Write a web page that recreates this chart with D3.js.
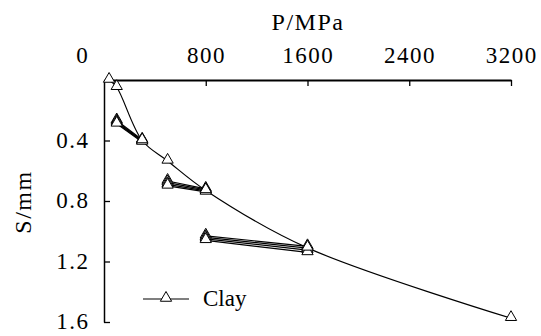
<!DOCTYPE html>
<html>
<head>
<meta charset="utf-8">
<script src="https://cdnjs.cloudflare.com/ajax/libs/d3/7.8.5/d3.min.js"></script>
<style>
  body { margin: 0; background: #fff; }
  svg text { font-family: 'Liberation Serif', 'Times New Roman', serif; fill: #000; }
</style>
</head>
<body>
<svg id="chart" width="541" height="336"></svg>
<script>
// loading curve (P in MPa, S in mm)
let loadP = [40, 100, 300, 500, 800, 1600, 3200];
let loadS = [0, 0.048, 0.40, 0.535, 0.73, 1.11, 1.575];

// unload / reload cycles: each line goes from low P to high P
let cycleP = [[100, 300], [500, 800], [800, 1600]];
let cycleS = [
  [[0.268, 0.395], [0.276, 0.40], [0.283, 0.405], [0.29, 0.41]],
  [[0.668, 0.72], [0.678, 0.727], [0.69, 0.733], [0.70, 0.74]],
  [[1.03, 1.10], [1.04, 1.112], [1.05, 1.125], [1.06, 1.14]]
];

let xTicks = [0, 800, 1600, 2400, 3200];
let yTicks = [0.4, 0.8, 1.2, 1.6];
let seriesName = "Clay";

let svg = d3.select("#chart");

let x = d3.scaleLinear().domain([0, 3200]).range([104, 511]);
let y = d3.scaleLinear().domain([0, 1.6]).range([80, 322]);

// top x axis
let xAxis = svg.append("g").attr("transform", "translate(0,80)").
call(d3.axisBottom(x).tickValues(xTicks).tickSize(6).tickSizeOuter(0).tickFormat(""));
xAxis.select(".domain").attr("stroke", "#000").attr("stroke-width", 2);
xAxis.selectAll(".tick line").attr("stroke", "#000").attr("stroke-width", 1.3).
filter(d => d === 0).remove();

svg.append("g").selectAll("text").
data(xTicks).
enter().append("text").
attr("x", d => x(d) + (d === 0 ? -22 : 0) + 0.75).
attr("y", 63).
attr("text-anchor", "middle").
style("font-size", "23px").
style("letter-spacing", "1.5px").
text(d => d);

svg.append("text").
attr("x", 308).
attr("y", 30).
attr("text-anchor", "middle").
style("font-size", "24px").
style("letter-spacing", "1.5px").
text("P/MPa");

// left y axis, ticks pointing inward
let yAxis = svg.append("g").attr("transform", "translate(104,0)").
call(d3.axisRight(y).tickValues(yTicks).tickSize(6).tickSizeOuter(0).tickFormat(""));
yAxis.select(".domain").attr("stroke", "#000").attr("stroke-width", 1.5);
yAxis.selectAll(".tick line").attr("stroke", "#000").attr("stroke-width", 1.3);

svg.append("g").selectAll("text").
data(yTicks).
enter().append("text").
attr("x", 89.5).
attr("y", d => y(d) + 7).
attr("text-anchor", "end").
style("font-size", "23px").
style("letter-spacing", "1.5px").
text(d => d.toFixed(1));

svg.append("text").
attr("transform", "translate(31,202) rotate(-90)").
attr("text-anchor", "middle").
style("font-size", "24px").
style("letter-spacing", "1.5px").
text("S/mm");

// lines
let loadPts = loadP.map((p, i) => [p, loadS[i]]);
let smooth = d3.line().x(d => x(d[0])).y(d => y(d[1])).curve(d3.curveCatmullRom.alpha(0.5));
let straight = d3.line().x(d => x(d[0])).y(d => y(d[1]));

svg.append("path").
attr("d", smooth(loadPts)).
attr("fill", "none").
attr("stroke", "#000").
attr("stroke-width", 1.2);

let cyclePts = [];
cycleS.forEach((group, c) => {
  group.forEach(pair => {
    let pts = [[cycleP[c][0], pair[0]], [cycleP[c][1], pair[1]]];
    svg.append("path").
    attr("d", straight(pts)).
    attr("fill", "none").
    attr("stroke", "#000").
    attr("stroke-width", 1.2);
    cyclePts.push(...pts);
  });
});

// triangle markers
let tri = d3.symbol().type(d3.symbolTriangle).size(55);
let allPts = cyclePts.concat(loadPts);
svg.append("g").selectAll("path").
data(allPts).
enter().append("path").
attr("d", tri).
attr("transform", d => "translate(" + x(d[0]) + "," + (y(d[1]) - 1) + ")").
attr("fill", "#fff").
attr("stroke", "#000").
attr("stroke-width", 1);

// legend
let legend = svg.append("g").attr("transform", "translate(143,299)");
legend.append("line").attr("x1", 0).attr("x2", 46).attr("y1", 0).attr("y2", 0).
attr("stroke", "#000").attr("stroke-width", 1.2);
legend.append("path").attr("d", tri).attr("transform", "translate(23,-1)").
attr("fill", "#fff").attr("stroke", "#000").attr("stroke-width", 1);
legend.append("text").attr("x", 60).attr("y", 7).
style("font-size", "23px").text(seriesName);
</script>
</body>
</html>
